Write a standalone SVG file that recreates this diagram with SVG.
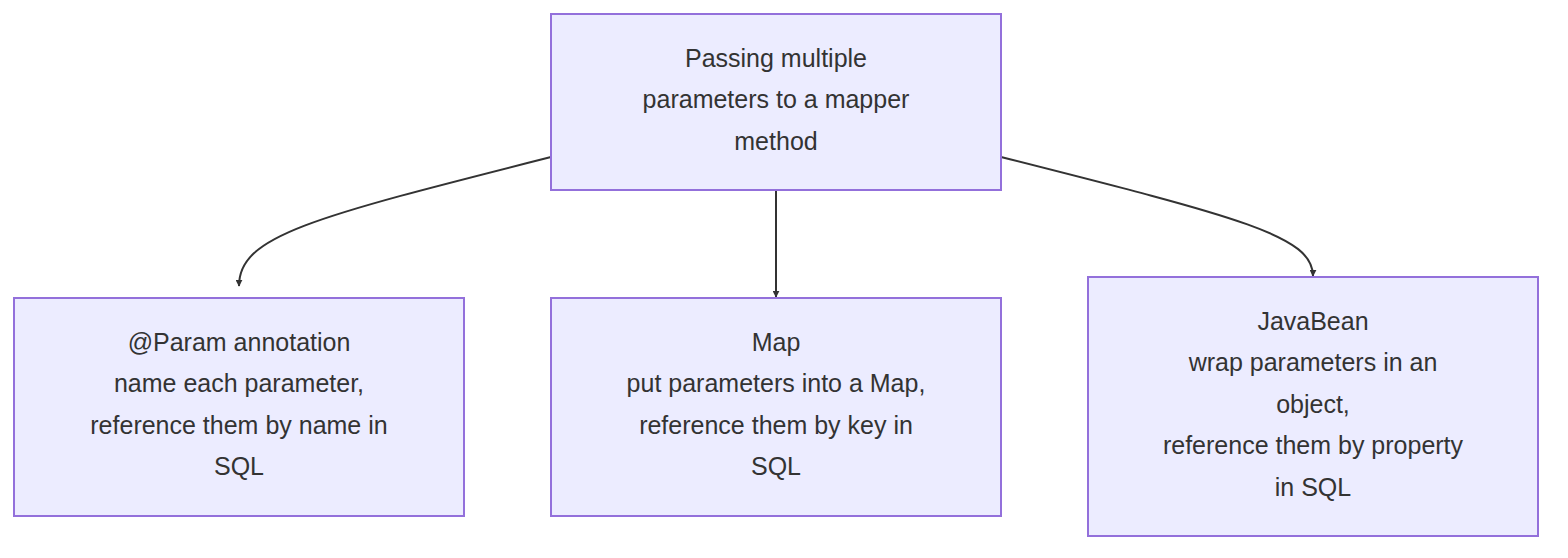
<svg xmlns="http://www.w3.org/2000/svg" width="1568" height="558" viewBox="0 0 1568 558">
<style>
.n rect{fill:#ECECFF;stroke:#9370DB;stroke-width:2}
.n text{font-family:"Liberation Sans",Arial,sans-serif;font-size:25px;fill:#333;text-anchor:middle}
.e path{fill:none;stroke:#333;stroke-width:2}
</style>
<defs><marker id="a" viewBox="0 0 10 10" refX="9" refY="5" markerWidth="7" markerHeight="7" orient="auto-start-reverse" markerUnits="userSpaceOnUse"><path d="M0,0L10,5L0,10z" fill="#333"/></marker></defs>
<rect width="1568" height="558" fill="#fff"/>
<g class="e">
<path d="M551,157 C310,218 239,236 239,286" marker-end="url(#a)"/>
<path d="M776,190 L776,297" marker-end="url(#a)"/>
<path d="M1001,157 C1242,218 1313,236 1313,276" marker-end="url(#a)"/>
</g>
<g id="top" class="n"><rect x="551" y="14" width="450" height="176"/>
<text x="776" y="67">Passing multiple</text><text x="776" y="108">parameters to a mapper</text><text x="776" y="150">method</text></g>
<g id="param" class="n"><rect x="14" y="298" width="450" height="218"/>
<text x="239" y="351">@Param annotation</text><text x="239" y="392">name each parameter,</text><text x="239" y="434">reference them by name in</text><text x="239" y="475">SQL</text></g>
<g id="map" class="n"><rect x="551" y="298" width="450" height="218"/>
<text x="776" y="351">Map</text><text x="776" y="392">put parameters into a Map,</text><text x="776" y="434">reference them by key in</text><text x="776" y="475">SQL</text></g>
<g id="bean" class="n"><rect x="1088" y="277" width="450" height="259"/>
<text x="1313" y="330">JavaBean</text><text x="1313" y="371">wrap parameters in an</text><text x="1313" y="413">object,</text><text x="1313" y="454">reference them by property</text><text x="1313" y="496">in SQL</text></g>
</svg>
